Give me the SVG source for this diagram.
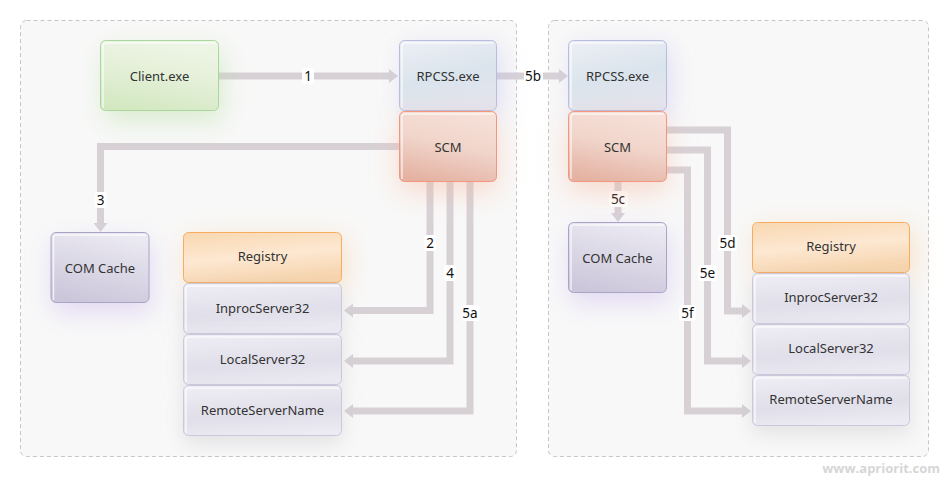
<svg xmlns="http://www.w3.org/2000/svg" width="950" height="490" viewBox="0 0 950 490">
<defs>
  <linearGradient id="gGreen" x1="0.6" y1="0" x2="0.3" y2="1">
    <stop offset="0" stop-color="#eef5e6"/>
    <stop offset="0.4" stop-color="#e6f1db"/>
    <stop offset="1" stop-color="#d3e8c1"/>
  </linearGradient>
  <linearGradient id="gBlue" x1="0" y1="0" x2="0.3" y2="1">
    <stop offset="0" stop-color="#eeeff6"/>
    <stop offset="0.6" stop-color="#dae4ec"/>
    <stop offset="1" stop-color="#e2e4ee"/>
  </linearGradient>
  <linearGradient id="gRed" x1="0.6" y1="0" x2="0.3" y2="1">
    <stop offset="0" stop-color="#f6e0d8"/>
    <stop offset="0.45" stop-color="#f1d5cb"/>
    <stop offset="1" stop-color="#e4b2a2"/>
  </linearGradient>
  <linearGradient id="gPurple" x1="0.6" y1="0" x2="0.3" y2="1">
    <stop offset="0" stop-color="#ebe9f2"/>
    <stop offset="1" stop-color="#cbc6da"/>
  </linearGradient>
  <linearGradient id="gOrange" x1="0.2" y1="0" x2="0.5" y2="1">
    <stop offset="0" stop-color="#f9d9b3"/>
    <stop offset="0.5" stop-color="#fde8d2"/>
    <stop offset="1" stop-color="#f6d4ad"/>
  </linearGradient>
  <linearGradient id="gGray" x1="0.3" y1="0" x2="0.5" y2="1">
    <stop offset="0" stop-color="#eeedf4"/>
    <stop offset="0.6" stop-color="#e0dfea"/>
    <stop offset="1" stop-color="#eceaf2"/>
  </linearGradient>
  <filter id="fGreen" x="-50%" y="-50%" width="200%" height="200%"><feDropShadow dx="4" dy="10" stdDeviation="13" flood-color="#b4dd9c" flood-opacity="0.45"/></filter>
  <filter id="fBlue" x="-50%" y="-50%" width="200%" height="200%"><feDropShadow dx="4" dy="6" stdDeviation="12" flood-color="#b9b8f0" flood-opacity="0.4"/></filter>
  <filter id="fRed" x="-50%" y="-50%" width="200%" height="200%"><feDropShadow dx="0" dy="10" stdDeviation="14" flood-color="#f6b49a" flood-opacity="0.45"/></filter>
  <filter id="fPurple" x="-50%" y="-50%" width="200%" height="200%"><feDropShadow dx="2" dy="10" stdDeviation="13" flood-color="#c7b3ec" flood-opacity="0.45"/></filter>
  <filter id="fOrange" x="-50%" y="-50%" width="200%" height="200%"><feDropShadow dx="4" dy="6" stdDeviation="13" flood-color="#f8c68e" flood-opacity="0.45"/></filter>
  <filter id="fGray" x="-50%" y="-50%" width="200%" height="200%"><feDropShadow dx="0" dy="8" stdDeviation="10" flood-color="#b8b8c0" flood-opacity="0.35"/></filter>
  <marker id="ah" viewBox="0 -7 9 14" refX="0" refY="0" markerWidth="9" markerHeight="14" markerUnits="userSpaceOnUse" orient="auto">
    <path d="M0,-7 L9,0 L0,7 Z" fill="#d7d1d6"/>
  </marker>
  <style>
    .frame { fill: #f8f8f8; stroke: #c6c6c6; stroke-width: 1; stroke-dasharray: 4 3; }
    .node text { font-family: "Noto Sans", "DejaVu Sans", sans-serif; font-size: 13px; fill: #333333; text-anchor: middle; dominant-baseline: central; }
    .hl { fill: none; stroke: #ffffff; stroke-opacity: 0.7; stroke-width: 1.5; }
    .conn path { fill: none; stroke: #d7d1d6; stroke-width: 7; marker-end: url(#ah); }
    .lbl rect { fill: #ffffff; }
    .lbl text { font-family: "Noto Sans", "DejaVu Sans", sans-serif; font-size: 13.5px; fill: #111; text-anchor: middle; dominant-baseline: central; }
    .wm { font-family: "Open Sans", "Noto Sans", sans-serif; font-weight: bold; font-size: 13px; fill: #d6d6d6; }
  </style>
</defs>

<rect width="950" height="490" fill="#ffffff"/>
<g id="frames">
  <rect class="frame" x="20.5" y="20.5" width="496" height="436" rx="6"/>
  <rect class="frame" x="548.5" y="20.5" width="380" height="436" rx="6"/>
</g>

<g id="connectors" class="conn">
  <path d="M219,76 H389"/>
  <path d="M497,76 H559"/>
  <path d="M399,146.5 H100.5 V223"/>
  <path d="M430,182 V310.5 H353"/>
  <path d="M450,182 V361 H353"/>
  <path d="M470,182 V411 H353"/>
  <path d="M618,182 V213"/>
  <path d="M667,130 H727.5 V311 H742"/>
  <path d="M667,150 H707.5 V361 H742"/>
  <path d="M667,170 H687.5 V411 H742"/>
</g>

<g id="labels" class="lbl">
  <rect x="302" y="68" width="12" height="16" rx="3"/><text x="308" y="76">1</text>
  <rect x="524" y="68" width="19" height="16" rx="3"/><text x="533" y="76">5b</text>
  <rect x="94.5" y="192" width="12" height="16" rx="3"/><text x="100.5" y="200">3</text>
  <rect x="424" y="235" width="12" height="16" rx="3"/><text x="430" y="243">2</text>
  <rect x="444" y="265" width="12" height="16" rx="3"/><text x="450" y="273">4</text>
  <rect x="461" y="305" width="19" height="16" rx="3"/><text x="470" y="313">5a</text>
  <rect x="609" y="191" width="19" height="16" rx="3"/><text x="618" y="199">5c</text>
  <rect x="718" y="235" width="19" height="16" rx="3"/><text x="727.5" y="243">5d</text>
  <rect x="698" y="265" width="19" height="16" rx="3"/><text x="707.5" y="273">5e</text>
  <rect x="679" y="305" width="17" height="16" rx="3"/><text x="687.5" y="313">5f</text>
</g>

<g id="client" class="node">
  <rect x="100.5" y="40.5" width="118" height="70" rx="5" fill="url(#gGreen)" stroke="#a8d89c" filter="url(#fGreen)"/>
  <path class="hl" d="M103,108 V46 Q103,43 106,43 H216"/>
  <text x="159.5" y="76">Client.exe</text>
</g>

<g id="rpcss-left" class="node">
  <rect x="399.5" y="40.5" width="97" height="70" rx="5" fill="url(#gBlue)" stroke="#b9bddd" filter="url(#fBlue)"/>
  <path class="hl" d="M402,108 V46 Q402,43 405,43 H494"/>
  <text x="448" y="76">RPCSS.exe</text>
</g>

<g id="scm-left" class="node">
  <rect x="399.5" y="111.5" width="97" height="70" rx="5" fill="url(#gRed)" stroke="#f2977c" filter="url(#fRed)"/>
  <path class="hl" d="M402,179 V117 Q402,114 405,114 H494"/>
  <text x="448" y="147">SCM</text>
</g>

<g id="comcache-left" class="node">
  <rect x="51" y="232.5" width="98" height="70" rx="5" fill="url(#gPurple)" stroke="#aaa3c6" filter="url(#fPurple)"/>
  <path class="hl" d="M53.5,300 V238 Q53.5,235 56.5,235 H146.5"/>
  <text x="100" y="268">COM Cache</text>
</g>

<g id="registry-left" class="node">
  <rect x="183.5" y="232.5" width="158" height="50" rx="5" fill="url(#gOrange)" stroke="#f6ad5f" filter="url(#fOrange)"/>
  <text x="262.5" y="256">Registry</text>
</g>

<g id="inproc-left" class="node">
  <rect x="183.5" y="283.5" width="158" height="50" rx="5" fill="url(#gGray)" stroke="#cbc8dc" filter="url(#fGray)"/>
  <path class="hl" d="M186,331 V289 Q186,286 189,286 H339"/>
  <text x="262.5" y="308">InprocServer32</text>
</g>

<g id="local-left" class="node">
  <rect x="183.5" y="334.5" width="158" height="50" rx="5" fill="url(#gGray)" stroke="#cbc8dc" filter="url(#fGray)"/>
  <path class="hl" d="M186,382 V340 Q186,337 189,337 H339"/>
  <text x="262.5" y="359">LocalServer32</text>
</g>

<g id="remote-left" class="node">
  <rect x="183.5" y="385.5" width="158" height="50" rx="5" fill="url(#gGray)" stroke="#cbc8dc" filter="url(#fGray)"/>
  <path class="hl" d="M186,433 V391 Q186,388 189,388 H339"/>
  <text x="262.5" y="410">RemoteServerName</text>
</g>

<g id="rpcss-right" class="node">
  <rect x="568.5" y="40.5" width="98" height="70" rx="5" fill="url(#gBlue)" stroke="#b9bddd" filter="url(#fBlue)"/>
  <path class="hl" d="M571,108 V46 Q571,43 574,43 H664"/>
  <text x="617.5" y="76">RPCSS.exe</text>
</g>

<g id="scm-right" class="node">
  <rect x="568.5" y="111.5" width="98" height="70" rx="5" fill="url(#gRed)" stroke="#f2977c" filter="url(#fRed)"/>
  <path class="hl" d="M571,179 V117 Q571,114 574,114 H664"/>
  <text x="617.5" y="147">SCM</text>
</g>

<g id="comcache-right" class="node">
  <rect x="568.5" y="222.5" width="98" height="70" rx="5" fill="url(#gPurple)" stroke="#aaa3c6" filter="url(#fPurple)"/>
  <path class="hl" d="M571,290 V228 Q571,225 574,225 H664"/>
  <text x="617.5" y="258">COM Cache</text>
</g>

<g id="registry-right" class="node">
  <rect x="752.5" y="222.5" width="157" height="50" rx="5" fill="url(#gOrange)" stroke="#f6ad5f" filter="url(#fOrange)"/>
  <text x="831" y="246">Registry</text>
</g>

<g id="inproc-right" class="node">
  <rect x="752.5" y="273.5" width="157" height="50" rx="5" fill="url(#gGray)" stroke="#cbc8dc" filter="url(#fGray)"/>
  <path class="hl" d="M755,321 V279 Q755,276 758,276 H907"/>
  <text x="831" y="297">InprocServer32</text>
</g>

<g id="local-right" class="node">
  <rect x="752.5" y="324.5" width="157" height="50" rx="5" fill="url(#gGray)" stroke="#cbc8dc" filter="url(#fGray)"/>
  <path class="hl" d="M755,372 V330 Q755,327 758,327 H907"/>
  <text x="831" y="348">LocalServer32</text>
</g>

<g id="remote-right" class="node">
  <rect x="752.5" y="375.5" width="157" height="50" rx="5" fill="url(#gGray)" stroke="#cbc8dc" filter="url(#fGray)"/>
  <path class="hl" d="M755,423 V381 Q755,378 758,378 H907"/>
  <text x="831" y="399">RemoteServerName</text>
</g>

<text class="wm" x="940" y="473" text-anchor="end">www.apriorit.com</text>
</svg>
